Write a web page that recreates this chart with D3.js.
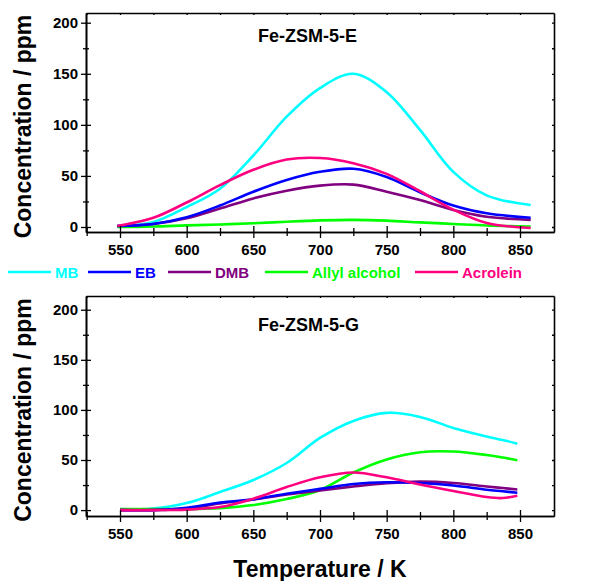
<!DOCTYPE html>
<html>
<head>
<meta charset="utf-8">
<script src="https://cdn.jsdelivr.net/npm/d3@7"></script>
<style>
  body { margin: 0; background: #fff; }
  svg { display: block; font-family: Arial, "Liberation Sans", sans-serif; }
</style>
</head>
<body>
<svg id="chart" width="593" height="581"></svg>
<script>
// series names + colours (legend order)
const seriesNames = ["MB", "EB", "DMB", "Allyl alcohol", "Acrolein"];
const seriesColors = ["#00ffff", "#0000ff", "#800080", "#00ff00", "#ff0080"];

// Fe-ZSM-5-E
const tempE = [548, 575, 600, 625, 650, 675, 700, 725, 750, 775, 800, 825, 858];
const mbE      = [1, 5, 19.5, 37.5, 70, 108, 136, 150, 132, 95, 54, 31, 21.5];
const ebE      = [1, 3, 9.5, 21, 34.5, 46, 54, 57, 49, 34, 21, 13.4, 9];
const dmbE     = [1, 3, 8.5, 18, 28, 35.5, 40.5, 41.5, 34.6, 26.4, 16.6, 10, 7];
const allylE   = [0, 0.5, 1.6, 2.5, 3.6, 5.2, 6.5, 7, 6.2, 4.5, 3, 1.5, 0.5];
const acroleinE = [1, 9, 24, 41, 56, 66, 67.5, 62.5, 52, 35, 17, 4, -1];

// Fe-ZSM-5-G
const tempG = [550, 575, 600, 625, 650, 675, 700, 725, 750, 775, 800, 825, 837, 848];
const mbG      = [0.7, 1.6, 7, 18, 30, 47, 72, 89, 97, 93, 82, 73.5, 70, 66.3];
const ebG      = [0, 0, 2.3, 7.5, 10.8, 16.3, 21.2, 26, 27.8, 27, 24.5, 20.3, 18.8, 17.3];
const dmbG     = [0, 0, 1.5, 6.5, 10.5, 15.5, 19.6, 23.5, 26.8, 28.4, 27, 23.5, 22, 20.6];
const allylG   = [1, 1, 1, 2, 5, 11, 20, 37.5, 50.6, 57.8, 58.5, 55, 52.5, 49.7];
const acroleinG = [0, 0, 0.5, 3, 11.4, 23, 32.7, 37.5, 32.7, 25.5, 19, 13, 12, 14.4];

const xMajor = [550, 600, 650, 700, 750, 800, 850];
const xMinor = [525, 575, 625, 675, 725, 775, 825];
const yMajor = [0, 50, 100, 150, 200];
const yMinor = [25, 75, 125, 175];

const svg = d3.select("#chart");

const plotPanel = (top, bottom, yMin, yMax, temps, seriesData, title, titleY) => {
  const left = 86, right = 554;
  const x = d3.scaleLinear().domain([524.5, 875.5]).range([left, right]);
  const y = d3.scaleLinear().domain([yMin, yMax]).range([bottom, top]);
  const g = svg.append("g");

  // clip so curves stay inside the frame
  const clipId = "clip" + top;
  svg.append("clipPath").attr("id", clipId)
    .append("rect").attr("x", left).attr("y", top).attr("width", right - left).attr("height", bottom - top);

  const line = d3.line()
    .x((d, i) => x(temps[i]))
    .y(d => y(d))
    .curve(d3.curveCatmullRom.alpha(0.5));

  // draw in order so pink/green sit like the original
  const drawOrder = [0, 3, 2, 1, 4];
  g.append("g").attr("clip-path", "url(#" + clipId + ")")
    .selectAll("path")
    .data(drawOrder)
    .enter().append("path")
      .attr("d", k => line(seriesData[k]))
      .attr("fill", "none")
      .attr("stroke", k => seriesColors[k])
      .attr("stroke-width", 2.6)
      .attr("stroke-linejoin", "round");

  const styleAxis = sel => {
    sel.selectAll("path").attr("stroke", "#000").attr("stroke-width", 1.6);
    sel.selectAll("line").attr("stroke", "#000").attr("stroke-width", 1.3);
    sel.selectAll("text").attr("fill", "#000").attr("font-size", 15).attr("font-weight", "bold");
  };

  // bottom axis: crossing major ticks, crossing minor ticks
  g.append("g").attr("transform", "translate(0," + bottom + ")")
    .call(d3.axisBottom(x).tickValues(xMajor).tickSizeInner(6).tickSizeOuter(0).tickPadding(6).tickFormat(d3.format("d")))
    .call(styleAxis);
  g.append("g").attr("transform", "translate(0," + bottom + ")")
    .call(d3.axisBottom(x).tickValues(xMajor).tickSizeInner(-6).tickSizeOuter(0).tickFormat(""))
    .call(styleAxis);
  g.append("g").attr("transform", "translate(0," + bottom + ")")
    .call(d3.axisBottom(x).tickValues(xMinor).tickSize(4).tickFormat(""))
    .call(styleAxis).call(a => a.select(".domain").remove());
  g.append("g").attr("transform", "translate(0," + bottom + ")")
    .call(d3.axisBottom(x).tickValues(xMinor).tickSize(-4).tickFormat(""))
    .call(styleAxis).call(a => a.select(".domain").remove());

  // left axis
  g.append("g").attr("transform", "translate(" + left + ",0)")
    .call(d3.axisLeft(y).tickValues(yMajor).tickSizeInner(5).tickSizeOuter(0).tickPadding(3))
    .call(styleAxis);
  g.append("g").attr("transform", "translate(" + left + ",0)")
    .call(d3.axisLeft(y).tickValues(yMajor).tickSizeInner(-5).tickSizeOuter(0).tickFormat(""))
    .call(styleAxis);
  g.append("g").attr("transform", "translate(" + left + ",0)")
    .call(d3.axisLeft(y).tickValues(yMinor).tickSize(3).tickFormat(""))
    .call(styleAxis).call(a => a.select(".domain").remove());
  g.append("g").attr("transform", "translate(" + left + ",0)")
    .call(d3.axisLeft(y).tickValues(yMinor).tickSize(-3).tickFormat(""))
    .call(styleAxis).call(a => a.select(".domain").remove());

  // top + right frame with tiny inward ticks
  g.append("g").attr("transform", "translate(0," + top + ")")
    .call(d3.axisTop(x).tickValues(xMajor.concat(xMinor)).tickSizeInner(-2).tickSizeOuter(0).tickFormat(""))
    .call(styleAxis);
  g.append("g").attr("transform", "translate(" + right + ",0)")
    .call(d3.axisRight(y).tickValues(yMajor.concat(yMinor)).tickSizeInner(-2).tickSizeOuter(0).tickFormat(""))
    .call(styleAxis);

  // panel title
  g.append("text")
    .attr("x", 258)
    .attr("y", titleY)
    .attr("font-size", 18)
    .attr("font-weight", "bold")
    .attr("fill", "#000")
    .text(title);

  // y axis title
  g.append("text")
    .attr("transform", "translate(31," + ((top + bottom) / 2 + 4) + ") rotate(-90)")
    .attr("text-anchor", "middle")
    .attr("font-size", 23)
    .attr("font-weight", "bold")
    .attr("fill", "#000")
    .text("Concentration / ppm");
};

plotPanel(13, 232, -4.9, 209.5, tempE, [mbE, ebE, dmbE, allylE, acroleinE], "Fe-ZSM-5-E", 42);
plotPanel(296, 516, -5.9, 213.7, tempG, [mbG, ebG, dmbG, allylG, acroleinG], "Fe-ZSM-5-G", 331);

// legend row between panels
const legendX = [8, 88, 168, 265, 415];
const legend = svg.append("g")
  .selectAll("g")
  .data(seriesNames)
  .enter().append("g")
  .attr("transform", (d, i) => "translate(" + legendX[i] + ",272)");

legend.append("line")
  .attr("x1", 0).attr("x2", 43)
  .attr("stroke", (d, i) => seriesColors[i])
  .attr("stroke-width", 2.6);

legend.append("text")
  .attr("x", 47)
  .attr("y", 6)
  .attr("font-size", 15)
  .attr("font-weight", "bold")
  .attr("fill", (d, i) => seriesColors[i])
  .text(d => d);

// x axis title
svg.append("text")
  .attr("x", 320)
  .attr("y", 577)
  .attr("text-anchor", "middle")
  .attr("font-size", 23)
  .attr("font-weight", "bold")
  .attr("fill", "#000")
  .text("Temperature / K");
</script>
</body>
</html>
